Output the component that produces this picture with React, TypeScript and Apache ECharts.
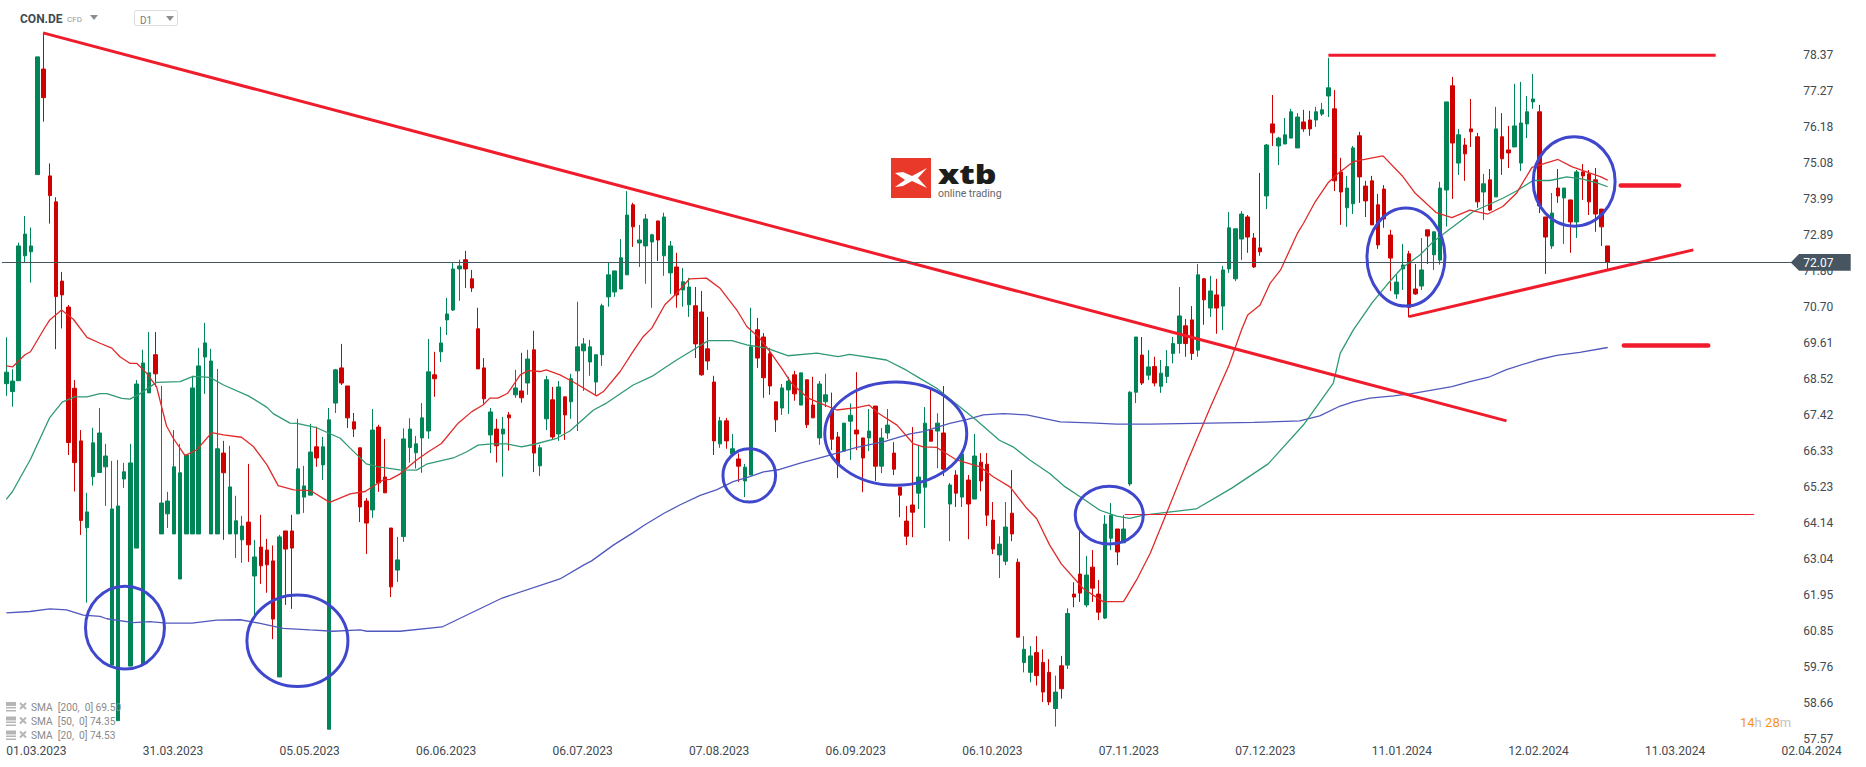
import { useEffect, useRef } from "react";
import * as echarts from "echarts";

const BAND_COUNT = 290;
const TICK_EVERY = 22;

const dateTicks = [
  "01.03.2023", "31.03.2023", "05.05.2023", "06.06.2023", "06.07.2023", "07.08.2023", "06.09.2023",
  "06.10.2023", "07.11.2023", "07.12.2023", "11.01.2024", "12.02.2024", "11.03.2024", "02.04.2024",
];

const priceTicks = [
  78.37, 77.27, 76.18, 75.08, 73.99, 72.89, 71.8, 70.7, 69.61, 68.52, 67.42, 66.33, 65.23, 64.14, 63.04,
  61.95, 60.85, 59.76, 58.66, 57.57,
];

// open, close, low, high
const candles = [
  [68.38, 68.73, 68.01, 69.79], [68.14, 68.46, 67.68, 68.82], [68.47, 72.57, 68.47, 72.67], [72.27, 72.93, 72.07, 73.48],
  [72.39, 72.57, 71.45, 73.13], [74.74, 78.32, 74.74, 78.32], [77.95, 77.08, 76.35, 79.04], [74.7, 74.1, 73.25, 75.08],
  [73.91, 71.03, 69.43, 74.05], [71.5, 71.08, 70.06, 71.78], [70.71, 66.59, 66.21, 70.77], [68.24, 65.98, 65.1, 68.49],
  [66.64, 64.22, 63.78, 66.97], [64.0, 64.48, 61.72, 65.06], [65.55, 66.58, 65.28, 67.04], [65.68, 66.88, 65.68, 67.64],
  [65.85, 66.18, 64.66, 66.55], [59.82, 64.57, 59.82, 66.03], [58.13, 64.66, 58.13, 66.06], [65.48, 65.7, 65.21, 65.97],
  [59.79, 65.97, 59.79, 66.55], [63.38, 68.37, 63.38, 68.49], [59.85, 69.01, 59.85, 69.41], [68.1, 68.71, 68.1, 69.95],
  [69.26, 68.68, 68.29, 69.95], [63.81, 64.75, 63.81, 68.31], [64.42, 64.81, 63.99, 65.09], [63.81, 65.85, 63.81, 66.97],
  [62.44, 65.67, 62.44, 66.55], [63.81, 66.21, 63.81, 66.21], [63.81, 68.25, 63.81, 68.62], [63.81, 68.92, 63.81, 69.47],
  [69.19, 69.62, 68.07, 70.23], [63.81, 69.07, 63.81, 69.44], [63.81, 66.4, 63.81, 68.83], [66.27, 65.67, 63.63, 66.64],
  [63.81, 65.24, 63.81, 66.49], [63.81, 64.21, 63.08, 64.97], [63.63, 64.05, 62.93, 64.36], [64.17, 63.48, 62.96, 65.94],
  [62.53, 63.11, 61.32, 63.63], [63.41, 62.84, 62.29, 64.39], [63.32, 62.87, 62.02, 63.66], [62.99, 61.22, 60.61, 63.46],
  [59.46, 63.72, 59.46, 63.78], [63.9, 63.35, 61.65, 63.9], [63.9, 63.38, 61.53, 64.39], [64.42, 65.79, 64.42, 67.31],
  [64.93, 65.27, 64.45, 65.88], [64.99, 66.3, 64.99, 67.16], [66.46, 66.12, 65.85, 67.07], [65.91, 66.46, 65.45, 66.76],
  [57.87, 67.28, 57.87, 67.64], [67.79, 68.8, 67.49, 68.83], [68.86, 68.4, 68.34, 69.59], [68.31, 67.34, 67.03, 68.31],
  [67.22, 67.0, 66.76, 67.49], [66.43, 64.63, 64.17, 66.43], [64.81, 64.14, 63.2, 64.9], [64.54, 66.97, 64.3, 67.61],
  [67.06, 65.36, 65.09, 67.13], [65.54, 65.06, 65.06, 66.7], [63.99, 62.2, 61.89, 63.99], [62.71, 63.02, 62.35, 63.72],
  [63.73, 66.7, 63.57, 67.02], [66.44, 67.0, 65.98, 67.33], [66.28, 66.55, 65.8, 66.79], [66.73, 67.34, 65.67, 67.79],
  [66.94, 68.74, 66.7, 69.74], [68.65, 68.53, 67.98, 69.35], [69.35, 69.62, 69.04, 70.11], [70.32, 70.5, 69.86, 70.99],
  [70.62, 71.87, 70.59, 72.05], [71.87, 71.96, 70.9, 72.15], [72.15, 71.87, 71.29, 72.42], [71.57, 71.29, 71.17, 71.84],
  [70.05, 68.83, 68.83, 70.69], [68.86, 67.92, 67.77, 69.16], [66.82, 67.52, 66.27, 67.64], [67.0, 66.49, 65.98, 67.31],
  [66.85, 67.0, 65.55, 67.37], [67.43, 67.34, 66.34, 67.52], [68.04, 68.25, 67.95, 68.8], [68.16, 67.95, 67.8, 69.32],
  [68.4, 69.13, 68.04, 69.41], [69.41, 66.27, 65.69, 69.99], [65.88, 66.43, 65.57, 66.52], [67.31, 68.5, 66.97, 68.62],
  [67.89, 66.76, 66.67, 68.28], [66.85, 68.28, 66.64, 68.46], [67.98, 67.43, 66.67, 67.98], [67.83, 68.53, 67.31, 68.68],
  [68.77, 69.5, 66.94, 70.87], [69.38, 69.59, 68.16, 69.77], [69.04, 69.5, 68.62, 69.71], [68.43, 69.26, 68.04, 69.26],
  [69.26, 70.75, 68.92, 70.81], [71.02, 71.69, 70.72, 72.05], [71.17, 71.81, 71.02, 71.81], [71.26, 72.21, 71.26, 72.78],
  [71.69, 73.51, 71.69, 74.24], [73.82, 73.15, 72.54, 73.88], [72.66, 72.75, 71.93, 73.21], [72.57, 73.39, 71.42, 73.54],
  [72.69, 72.91, 70.69, 72.94], [73.33, 72.75, 72.11, 73.33], [72.27, 73.45, 71.66, 73.58], [71.75, 72.57, 71.11, 72.72],
  [71.93, 71.08, 70.69, 72.36], [71.23, 71.48, 70.72, 71.9], [70.78, 71.32, 70.41, 71.6], [70.75, 69.59, 69.16, 71.32],
  [70.56, 68.65, 68.62, 71.2], [69.44, 69.07, 68.8, 70.41], [68.43, 66.64, 66.21, 68.62], [66.55, 67.25, 66.43, 67.37],
  [67.25, 66.64, 66.4, 67.34], [66.24, 66.4, 66.24, 66.85], [66.09, 65.87, 65.39, 66.26], [65.42, 65.84, 64.93, 65.94],
  [65.6, 69.5, 65.6, 70.69], [70.02, 69.16, 68.86, 70.38], [69.8, 68.56, 67.95, 69.92], [69.29, 68.31, 68.04, 69.47],
  [67.83, 67.28, 66.91, 67.83], [67.64, 68.25, 67.43, 68.37], [68.19, 68.46, 67.46, 68.59], [68.65, 68.07, 67.86, 68.77],
  [67.73, 68.71, 67.73, 68.71], [68.5, 67.13, 67.03, 68.5], [67.73, 67.34, 67.34, 68.59], [66.73, 68.37, 66.52, 68.46],
  [67.83, 68.04, 67.67, 68.68], [67.58, 66.69, 66.36, 68.11], [66.76, 65.93, 65.51, 66.91], [66.33, 67.18, 66.33, 67.18],
  [67.24, 67.42, 66.06, 67.78], [66.97, 66.85, 66.36, 68.73], [66.73, 66.12, 65.08, 66.73], [66.73, 66.94, 66.33, 67.61],
  [67.7, 65.87, 65.42, 67.7], [65.87, 66.73, 65.66, 67.03], [66.88, 67.12, 66.7, 67.61], [66.27, 65.78, 65.6, 66.6],
  [65.23, 64.99, 64.32, 65.23], [64.2, 63.74, 63.47, 64.66], [64.69, 64.47, 63.71, 67.06], [65.05, 65.54, 64.57, 66.51],
  [65.23, 67.18, 63.99, 67.67], [66.97, 66.63, 66.63, 68.19], [66.94, 67.18, 65.81, 67.48], [66.88, 65.78, 65.57, 68.31],
  [64.72, 65.3, 63.59, 65.36], [65.6, 65.05, 64.63, 65.75], [64.93, 66.24, 64.63, 66.24], [65.45, 64.72, 63.65, 65.6],
  [64.87, 66.18, 64.87, 66.85], [65.99, 65.42, 65.11, 66.27], [65.93, 64.38, 64.05, 66.27], [64.23, 63.35, 63.2, 64.78],
  [63.17, 63.5, 62.47, 63.74], [62.98, 64.02, 62.86, 64.78], [64.44, 63.81, 63.59, 65.75], [62.95, 60.67, 60.67, 63.06],
  [59.9, 60.3, 59.6, 60.7], [59.6, 60.1, 59.3, 60.4], [60.2, 59.5, 59.2, 60.7], [59.9, 59.0, 58.7, 60.3],
  [59.6, 58.7, 58.6, 60.0], [58.5, 59.0, 57.95, 59.5], [59.8, 59.1, 58.8, 60.1], [59.82, 61.39, 59.7, 61.55],
  [61.98, 61.89, 61.58, 62.34], [62.59, 62.01, 61.74, 63.93], [61.65, 62.56, 61.58, 63.14], [62.8, 62.16, 61.74, 63.32],
  [61.98, 61.43, 61.19, 62.41], [61.25, 64.11, 61.22, 64.38], [63.68, 64.38, 63.32, 64.75], [63.96, 63.26, 62.86, 63.96],
  [63.54, 63.96, 63.54, 64.38], [65.33, 68.12, 65.27, 68.15], [68.12, 69.8, 67.79, 69.8], [69.25, 68.4, 68.34, 69.8],
  [68.64, 68.89, 68.49, 69.4], [68.9, 68.4, 68.3, 69.2], [68.3, 68.7, 68.1, 69.1], [68.6, 68.9, 68.4, 69.4],
  [69.3, 69.6, 69.0, 69.8], [69.6, 70.44, 69.3, 71.32], [70.14, 69.6, 69.2, 70.35], [70.32, 69.3, 69.1, 70.74],
  [69.4, 71.69, 69.2, 72.02], [71.57, 70.93, 70.17, 71.6], [70.68, 71.2, 70.41, 71.66], [71.08, 70.68, 69.9, 71.57],
  [70.74, 71.84, 70.01, 71.96], [71.87, 73.12, 71.75, 73.6], [71.57, 73.09, 71.5, 73.09], [72.78, 73.54, 72.14, 73.63],
  [73.45, 72.84, 72.36, 73.51], [72.81, 71.93, 71.9, 72.96], [72.51, 72.39, 72.27, 74.79], [74.09, 75.64, 73.69, 75.67],
  [76.28, 76.01, 75.61, 77.16], [75.61, 75.85, 75.03, 75.89], [75.67, 75.95, 75.67, 76.46], [75.85, 76.65, 75.85, 76.74],
  [75.55, 76.49, 75.55, 76.61], [76.34, 76.13, 76.04, 76.71], [76.4, 76.13, 75.92, 76.68], [76.4, 76.65, 76.19, 76.8],
  [76.58, 76.71, 76.52, 76.92], [77.13, 77.38, 76.49, 78.29], [76.74, 74.55, 74.24, 77.31], [74.82, 74.21, 73.21, 75.25],
  [73.73, 74.33, 73.15, 74.7], [73.85, 75.55, 73.54, 75.61], [75.92, 74.67, 73.88, 76.04], [74.39, 73.94, 73.45, 74.55],
  [74.55, 73.21, 73.21, 74.7], [73.82, 72.6, 72.48, 74.15], [74.3, 73.39, 73.12, 74.42], [72.9, 72.2, 71.2, 73.06],
  [71.11, 71.47, 70.96, 71.69], [71.87, 71.99, 71.23, 72.63], [72.33, 70.7, 70.4, 72.42], [71.26, 71.11, 71.08, 72.02],
  [71.35, 71.84, 71.23, 72.81], [73.06, 72.87, 72.02, 73.06], [72.3, 73.0, 71.84, 73.0], [72.14, 74.33, 72.0, 74.52],
  [74.27, 76.95, 73.16, 76.95], [77.44, 75.7, 74.0, 77.71], [75.09, 75.95, 74.73, 76.13], [75.64, 75.37, 74.55, 75.85],
  [76.13, 76.04, 75.58, 77.04], [75.89, 73.91, 73.73, 76.01], [74.21, 74.46, 73.36, 74.76], [74.58, 73.66, 73.63, 74.91],
  [74.06, 76.13, 74.06, 76.8], [75.89, 75.22, 74.73, 76.61], [75.49, 75.4, 74.94, 76.22], [75.58, 76.22, 75.58, 77.5],
  [75.09, 76.31, 74.85, 77.56], [76.28, 76.65, 75.85, 77.13], [76.95, 77.04, 76.74, 77.8], [76.65, 73.79, 73.57, 76.86],
  [73.45, 72.84, 71.72, 73.45], [72.57, 73.57, 72.48, 74.18], [74.33, 74.09, 73.88, 74.91], [74.03, 74.33, 72.63, 74.33],
  [73.97, 73.3, 72.36, 73.97], [73.3, 74.82, 72.81, 74.88], [74.82, 74.7, 73.97, 75.06], [74.76, 73.91, 73.51, 74.88],
  [74.58, 73.54, 73.0, 74.94], [73.69, 73.15, 72.57, 73.69], [72.57, 72.08, 71.84, 72.57],
];

// moving averages as [candle index, price] at the bends of each line
const sma20 = [
  [0, 68.92], [1, 68.89], [3, 69.26], [3.9, 69.35], [6, 70.02], [7, 70.32], [8.9, 70.62], [10.8, 70.34], [13, 69.79],
  [15.1, 69.61], [17, 69.46], [18.3, 69.2], [19.9, 69.0], [21, 69.0], [22.6, 68.7], [24.2, 68.29], [25.8, 67.1],
  [26.9, 66.72], [28.8, 66.19], [30.7, 66.37], [33.1, 66.89], [35, 66.82], [37.9, 66.75], [39.8, 66.47], [42, 65.91],
  [43.8, 65.28], [46.3, 65.15], [49, 65.13], [52.1, 64.77], [55.4, 65.03], [57.8, 65.1], [60.7, 65.45], [61.8, 65.47],
  [63.4, 65.63], [66.1, 66.06], [68, 66.31], [70.1, 66.56], [72.8, 67.18], [75, 67.53], [76.8, 67.73], [77.9, 67.94],
  [79.2, 67.94], [80.8, 68.09], [82.8, 68.65], [84.1, 68.78], [86, 68.75], [87, 68.8], [89.2, 68.65], [91.3, 68.44],
  [95.1, 68.01], [96.2, 68.14], [98.9, 68.75], [100.8, 69.31], [102.6, 69.81], [104, 70.07], [106.1, 70.78], [108, 71.13],
  [110.1, 71.57], [112.8, 71.59], [115, 71.28], [117.7, 70.62], [119.3, 70.12], [121.4, 69.76], [123, 69.36], [125.1, 68.8],
  [126.5, 68.39], [129.2, 67.94], [131.1, 67.79], [133.8, 67.58], [137, 67.65], [139, 67.73], [140.5, 67.48], [143.5, 67.12],
  [146.1, 66.56], [147.7, 66.46], [149.9, 66.44], [153.1, 66.06], [156.9, 65.85], [159, 65.55], [161.7, 65.24], [164.4, 64.59],
  [166, 64.28], [168.1, 63.47], [170, 62.89], [173.5, 62.15], [176.7, 61.75], [180, 61.75], [182.1, 62.41], [184.3, 63.22],
  [186.5, 64.24], [190, 65.88], [194, 67.67], [197, 68.95], [199, 70.01], [200, 70.47], [202, 70.77], [203.6, 71.43],
  [205.3, 71.84], [208, 72.95], [209, 73.26], [210.9, 73.92], [213, 74.5], [214.6, 74.78], [217, 75.13], [218.4, 75.19],
  [221.8, 75.31], [225, 74.68], [227, 74.17], [230.4, 73.58], [232.9, 73.43], [235.8, 73.66], [238.7, 73.54], [241.1, 73.77],
  [243.3, 74.17], [245.8, 74.96], [250, 75.2], [252.2, 74.98], [256.8, 74.68], [258, 74.57],
];

const sma50 = [
  [0, 64.86], [1, 65.1], [3.9, 66.08], [7, 67.35], [9, 67.82], [11, 67.98], [13, 67.98], [15.1, 68.08], [16.2, 68.08],
  [18.6, 67.93], [19.9, 67.91], [21.5, 68.07], [24.2, 68.42], [28, 68.44], [30.1, 68.6], [32.8, 68.57], [35, 68.34],
  [39, 68.01], [42, 67.66], [43, 67.47], [45.7, 67.18], [46.8, 67.17], [50, 67.04], [53.8, 66.72], [55.4, 66.42], [58, 65.94],
  [59.7, 65.86], [63.4, 65.76], [66.1, 65.75], [67.7, 65.93], [72, 66.12], [74.2, 66.31], [76, 66.51], [78.2, 66.55],
  [80.6, 66.55], [83, 66.46], [84.9, 66.53], [88.7, 66.72], [90.8, 66.94], [94.6, 67.58], [96.7, 67.79], [101, 68.34],
  [104, 68.6], [106.4, 68.9], [108, 69.1], [110.7, 69.41], [113.1, 69.69], [116.9, 69.69], [119.3, 69.56], [122.5, 69.46],
  [125.9, 69.23], [130.6, 69.31], [134, 69.2], [135.9, 69.27], [141.8, 69.1], [145, 68.79], [147.2, 68.54], [149.9, 68.24],
  [153.6, 67.68], [156.3, 67.27], [160, 66.66], [162.2, 66.46], [164.9, 66.06], [168.1, 65.65], [170.6, 65.24], [173, 64.94],
  [176.2, 64.53], [178.9, 64.35], [181, 64.28], [183.2, 64.38], [191.7, 64.57], [197.5, 65.21], [203.3, 65.94], [209, 67.13],
  [213.8, 68.4], [214.9, 69.3], [217, 70.01], [220, 70.83], [222.4, 71.38], [224.8, 71.89], [227.8, 72.3], [229.9, 72.7],
  [232, 73.0], [236.3, 73.61], [241.1, 74.02], [243.3, 74.24], [246, 74.56], [248.7, 74.56], [251.4, 74.67], [254, 74.6],
  [256.4, 74.48], [258, 74.37],
];

const sma200 = [
  [0, 61.41], [3.8, 61.45], [7, 61.53], [9.7, 61.5], [12.4, 61.34], [15.1, 61.3], [16.2, 61.23], [20.5, 61.11], [23.1, 61.14],
  [25.8, 61.1], [29.9, 61.1], [33.9, 61.19], [37.7, 61.2], [40.9, 61.09], [44.6, 60.94], [48.9, 60.89], [52.7, 60.85],
  [57, 60.89], [58.1, 60.85], [63.4, 60.85], [70.2, 60.98], [79.9, 61.86], [89.2, 62.44], [93, 62.86], [94.3, 62.99],
  [97.8, 63.47], [101, 63.85], [102.9, 64.09], [105.9, 64.43], [108.5, 64.69], [111.8, 64.98], [114.5, 65.16], [117.1, 65.4],
  [119.8, 65.55], [122, 65.7], [124.6, 65.77], [127.9, 65.96], [132.7, 66.21], [137, 66.44], [141.3, 66.61], [145.6, 66.85],
  [147.7, 66.92], [152, 67.17], [154.7, 67.29], [157.4, 67.43], [160.6, 67.47], [164.4, 67.43], [169.8, 67.22], [174.6, 67.19],
  [178.9, 67.15], [184.3, 67.15], [201, 67.2], [208.4, 67.25], [211.6, 67.4], [214.9, 67.7], [217, 67.83], [219.7, 67.94],
  [223.5, 68.01], [226.2, 68.07], [232.9, 68.29], [235.8, 68.44], [239, 68.59], [241.7, 68.81], [246.6, 69.1], [249.8, 69.24],
  [253.5, 69.33], [258, 69.48],
];

const downTrend = [[5.91, 79.05], [241.7, 67.25]];
const topLevel = [[213, 78.37], [275.4, 78.37]];
const supportLine = [[226, 70.42], [271.8, 72.45]];
const upperDash = [[260.1, 74.41], [269.5, 74.41]];
const lowerDash = [[260.6, 69.54], [274.2, 69.54]];
const thinLevel = [[180.2, 64.4], [281.6, 64.4]];
const lastPriceLine = [[-0.69, 72.066], [288.6, 72.066]];

// centre index, centre price, radius in candles, radius in price
const circles = [
  [19.12, 60.96, 6.36, 1.26],
  [46.9, 60.56, 8.14, 1.39],
  [119.7, 65.59, 4.24, 0.81],
  [143.3, 66.86, 11.44, 1.57],
  [177.7, 64.38, 5.48, 0.88],
  [225.5, 72.23, 6.28, 1.49],
  [252.6, 74.53, 6.6, 1.36],
];

const legendRows = [
  ["SMA  [200,  0] 69.50", 707],
  ["SMA  [50,  0] 74.35", 721.5],
  ["SMA  [20,  0] 74.53", 735.5],
] as const;

const GREEN = "#008557";
const RED = "#cf0000";
const TREND = "#f01c2c";

const categories = Array.from({ length: BAND_COUNT }, (_, i) =>
  i % TICK_EVERY === 0 ? dateTicks[i / TICK_EVERY] : ""
);

function overlay(data: number[][], width: number, color: string, extra: object = {}) {
  return {
    type: "line",
    xAxisIndex: 1,
    yAxisIndex: 0,
    data,
    showSymbol: false,
    silent: true,
    lineStyle: { color, width, ...extra },
    z: 5,
  };
}

function legendGraphics() {
  const items: any[] = [];
  legendRows.forEach(([label, y]) => {
    items.push(
      { type: "rect", shape: { x: 6, y: y - 5, width: 10, height: 4 }, style: { fill: "#b5b5b5" }, z: 20 },
      { type: "rect", shape: { x: 6, y: y, width: 10, height: 1.5 }, style: { fill: "#b5b5b5" }, z: 20 },
      { type: "rect", shape: { x: 6, y: y + 3, width: 10, height: 1.5 }, style: { fill: "#b5b5b5" }, z: 20 },
      { type: "line", shape: { x1: 20, y1: y - 4, x2: 26, y2: y + 2 }, style: { stroke: "#b5b5b5", lineWidth: 2 }, z: 20 },
      { type: "line", shape: { x1: 26, y1: y - 4, x2: 20, y2: y + 2 }, style: { stroke: "#b5b5b5", lineWidth: 2 }, z: 20 },
      {
        type: "text",
        x: 31,
        y,
        style: { text: label, fill: "#8a8a8a", font: "10.2px Roboto", textVerticalAlign: "middle" },
        z: 20,
      }
    );
  });
  return items;
}

export default function App() {
  const containerRef = useRef<HTMLDivElement>(null);

  useEffect(() => {
    document.body.style.margin = "0";
    if (!containerRef.current) return;
    const chart = echarts.init(containerRef.current, undefined, { renderer: "svg" });

    chart.setOption({
      animation: false,
      backgroundColor: "#ffffff",
      grid: { left: 3.2, top: 0, width: 1800, height: 745 },
      xAxis: [
        {
          type: "category",
          data: categories,
          axisLine: { show: false },
          axisTick: { show: false },
          splitLine: { show: false },
          axisLabel: {
            interval: TICK_EVERY - 1,
            margin: 0,
            align: "left",
            verticalAlign: "top",
            color: "#3f4a52",
            fontFamily: "Roboto",
            fontSize: 12,
          },
        },
        { type: "value", min: -0.5, max: BAND_COUNT - 0.5, show: false },
      ],
      yAxis: {
        type: "value",
        position: "right",
        min: 57.39,
        max: 80.05,
        axisLine: { show: false },
        axisTick: { show: false },
        splitLine: { show: false },
        axisLabel: {
          customValues: priceTicks,
          formatter: (v: number) => v.toFixed(2),
          margin: 0,
          padding: [0, 0, 2, 0],
          color: "#3f4a52",
          fontFamily: "Roboto",
          fontSize: 12,
        },
      },
      series: [
        {
          type: "candlestick",
          data: candles,
          barWidth: 4,
          itemStyle: { color: GREEN, color0: RED, borderColor: GREEN, borderColor0: RED, borderWidth: 1 },
          z: 2,
        },
        overlay(sma200, 1.3, "#5058bd"),
        overlay(sma50, 1.3, "#2f9a73"),
        overlay(sma20, 1.3, "#e02a2a"),
        overlay(thinLevel, 1, TREND),
        overlay(downTrend, 3, TREND),
        overlay(topLevel, 3, TREND),
        overlay(supportLine, 3, TREND),
        overlay(upperDash, 4.5, TREND, { cap: "round" }),
        overlay(lowerDash, 4.5, TREND, { cap: "round" }),
        { ...overlay(lastPriceLine, 1, "#44535c"), clip: false, z: 6 },
        {
          type: "custom",
          xAxisIndex: 1,
          yAxisIndex: 0,
          data: circles,
          silent: true,
          z: 7,
          encode: { x: 0, y: 1 },
          renderItem: (_params: any, api: any) => {
            const item = [api.value(0), api.value(1)];
            const c = api.coord(item);
            const r = api.size([api.value(2), api.value(3)], item);
            return {
              type: "ellipse",
              shape: { cx: c[0], cy: c[1], rx: r[0], ry: r[1] },
              style: { fill: "none", stroke: "#3f48cc", lineWidth: 3 },
            };
          },
        },
      ],
      graphic: [
        { type: "text", x: 20, y: 19, style: { text: "CON.DE", fill: "#3f4a52", font: "bold 12px Roboto", textVerticalAlign: "middle" } },
        { type: "text", x: 67, y: 19.5, style: { text: "CFD", fill: "#999999", font: "8px Roboto", textVerticalAlign: "middle" } },
        { type: "polygon", shape: { points: [[90, 15], [98, 15], [94, 20]] }, style: { fill: "#8d8d8d" } },
        { type: "rect", shape: { x: 134.5, y: 10.5, width: 43, height: 15, r: 2 }, style: { fill: "#ffffff", stroke: "#dddddd", lineWidth: 1 } },
        { type: "text", x: 140, y: 20, style: { text: "D1", fill: "#7c7c7c", font: "10px Roboto", textVerticalAlign: "middle" } },
        { type: "polygon", shape: { points: [[166, 16], [174, 16], [170, 21]] }, style: { fill: "#8d8d8d" } },

        { type: "rect", shape: { x: 891, y: 158, width: 40, height: 40 }, style: { fill: "#e8392b" } },
        {
          type: "polygon",
          shape: { points: [[895, 173], [903, 172], [912, 176], [927, 168], [918, 178], [927, 188], [912, 181], [903, 186], [895, 187], [905, 180]] },
          style: { fill: "#ffffff" },
        },
        { type: "text", x: 938, y: 174, scaleX: 1.3, style: { text: "xtb", fill: "#1d1d1b", font: "800 26px 'Open Sans'", textVerticalAlign: "middle" } },
        { type: "text", x: 938, y: 193, style: { text: "online trading", fill: "#666666", font: "10.5px Roboto", textVerticalAlign: "middle" } },

        { type: "polygon", shape: { points: [[1790.7, 262.4], [1799, 254], [1850.7, 254], [1850.7, 270.7], [1799, 270.7]] }, style: { fill: "#46555f" }, z: 15 },
        { type: "text", x: 1803.3, y: 263, style: { text: "72.07", fill: "#ffffff", font: "12px Roboto", textVerticalAlign: "middle" }, z: 16 },

        {
          type: "text",
          x: 1740,
          y: 722,
          style: {
            text: "{o|14}{g|h} {o|28}{g|m}",
            textVerticalAlign: "middle",
            rich: {
              o: { fill: "#f7941d", font: "13px Roboto" },
              g: { fill: "#c2c2c2", font: "13px Roboto" },
            },
          },
        },
        ...legendGraphics(),
      ],
    });

    return () => chart.dispose();
  }, []);

  return <div ref={containerRef} style={{ width: 1866, height: 767 }} />;
}
